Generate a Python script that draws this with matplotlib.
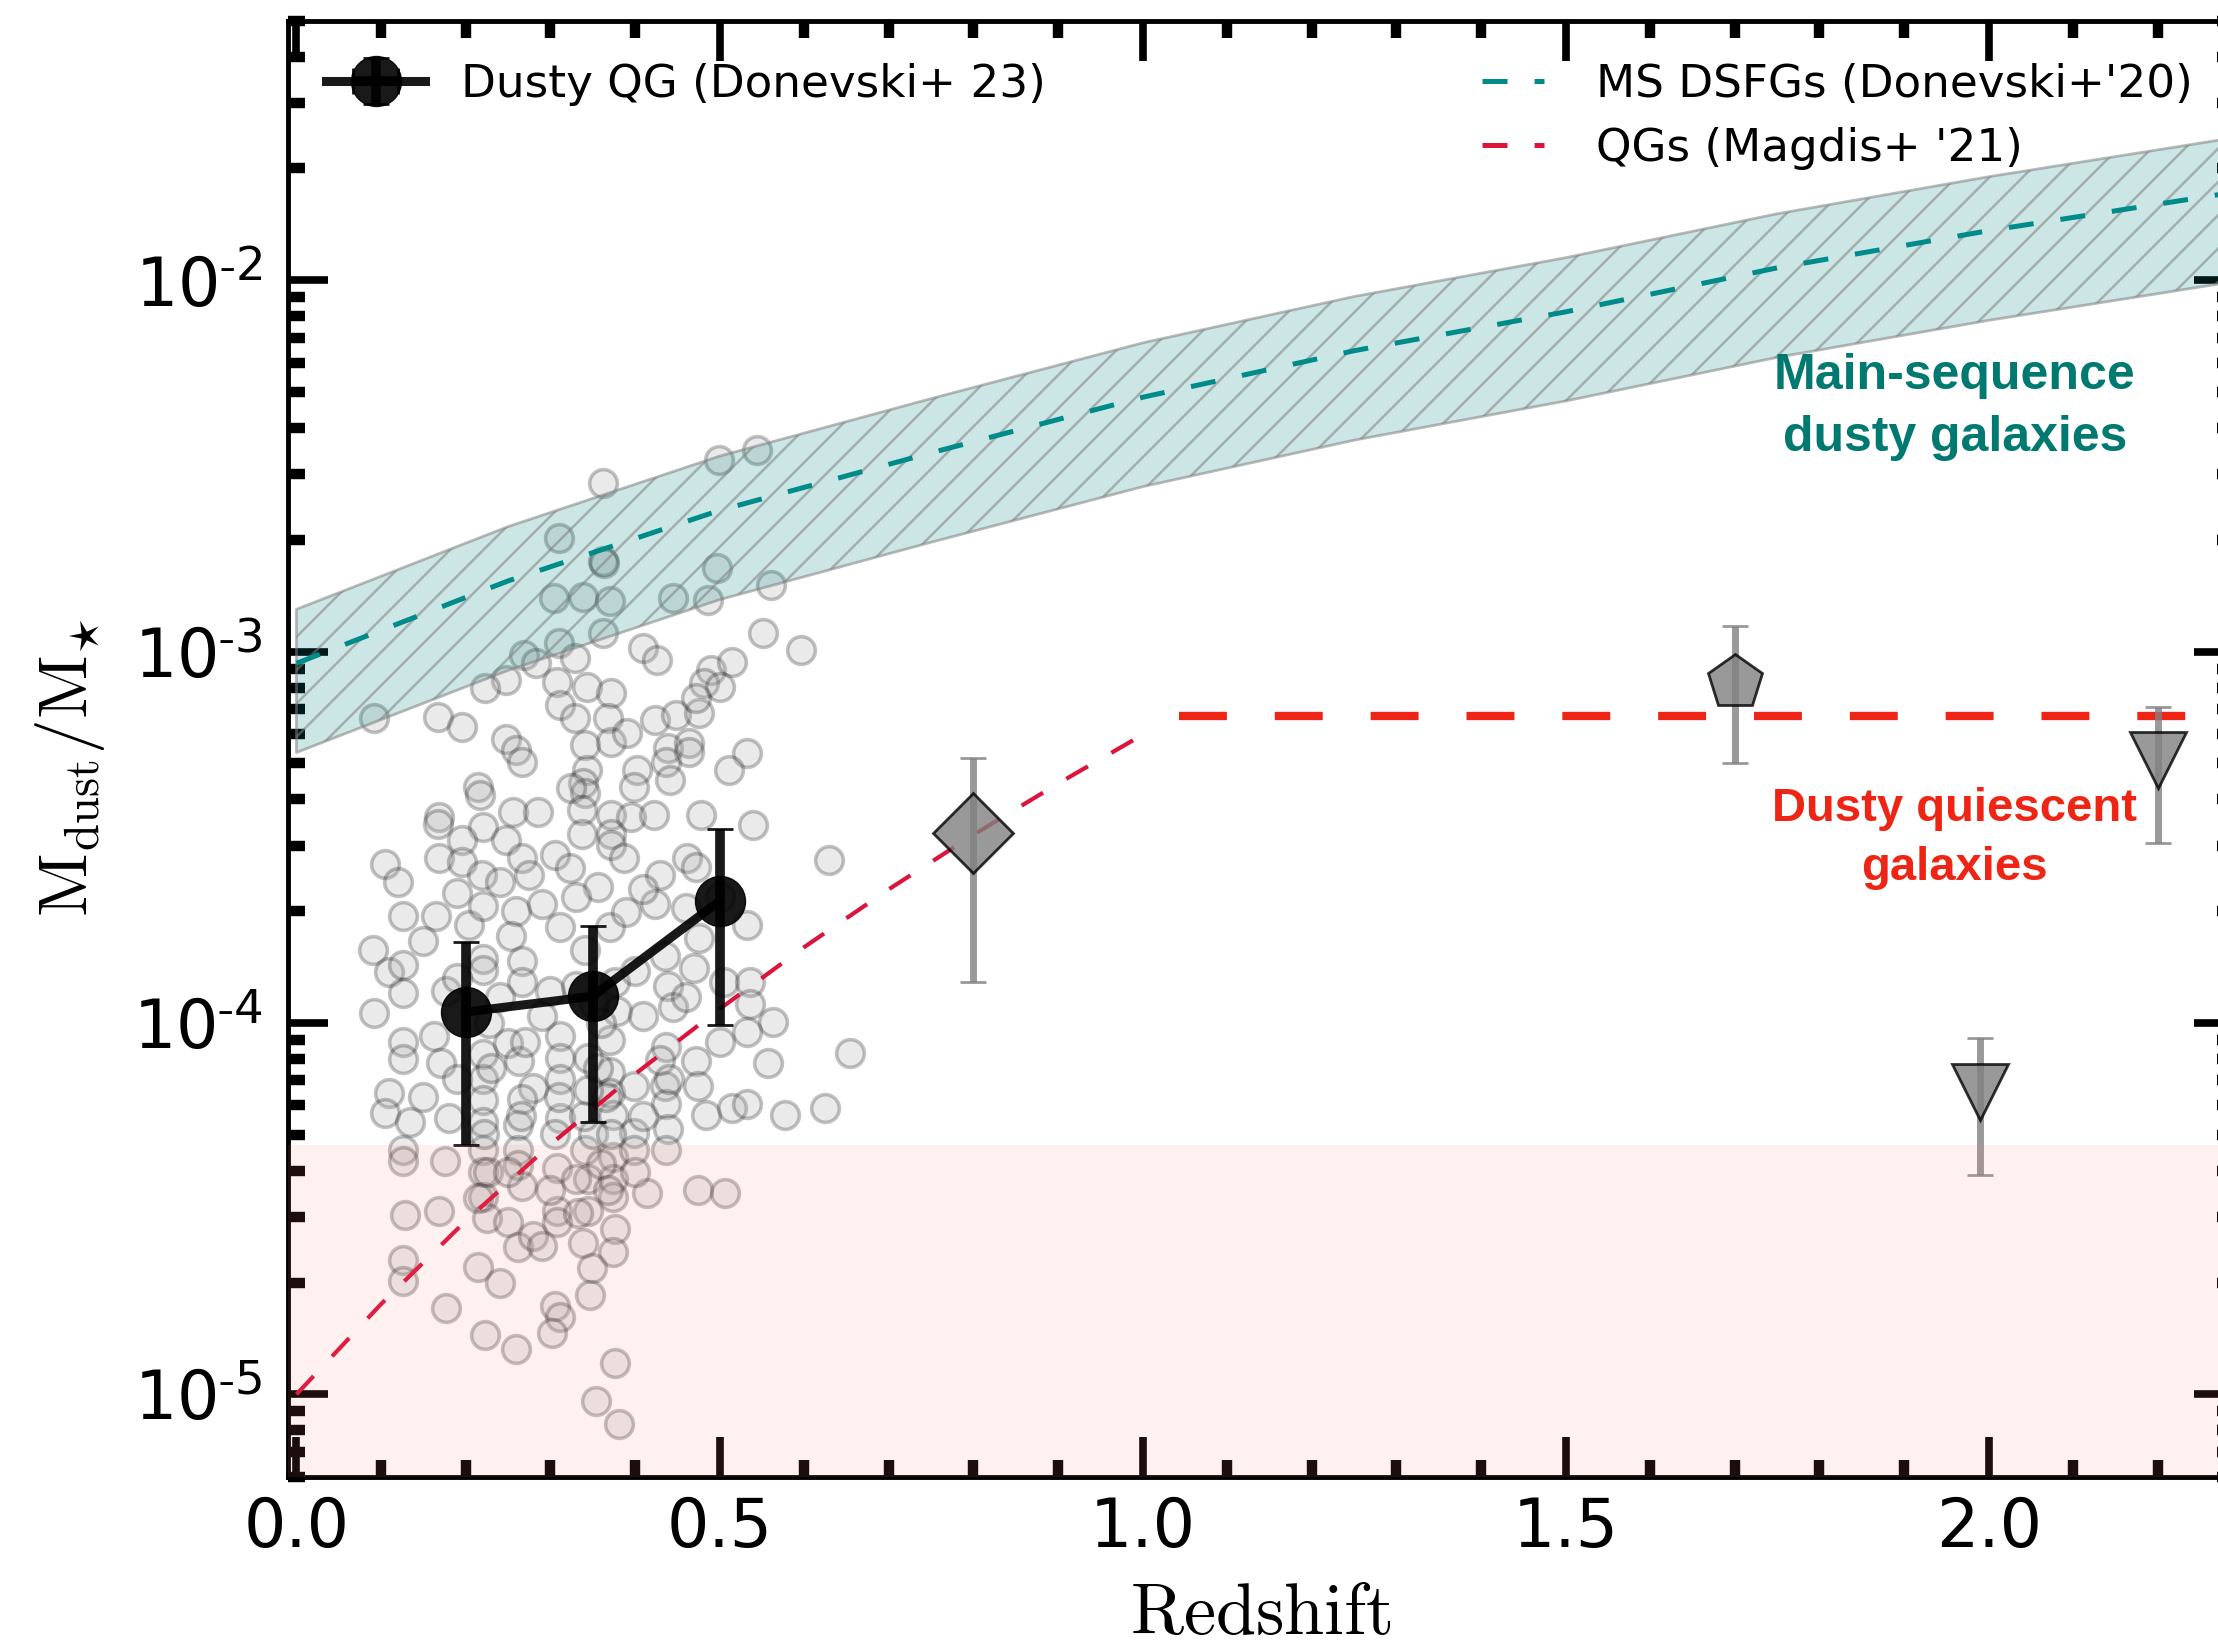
import numpy as np
import matplotlib
matplotlib.use("Agg")
import matplotlib.pyplot as plt
from matplotlib.lines import Line2D
from matplotlib.ticker import MultipleLocator, LogLocator, FuncFormatter, NullFormatter

plt.rcParams["font.family"] = ["DejaVu Sans"]
plt.rcParams["mathtext.fontset"] = "cm"
plt.rcParams["lines.scale_dashes"] = False
plt.rcParams["hatch.linewidth"] = 1.8

# --- data ---

# main-sequence DSFG relation (Donevski+20): median and band
ms_z = [0.0, 0.25, 0.5, 0.75, 1.0, 1.25, 1.5, 1.75, 2.0, 2.3]
ms_med = [9.3e-4, 1.55e-3, 2.40e-3, 3.43e-3, 4.84e-3, 6.46e-3, 8.22e-3, 1.08e-2, 1.36e-2, 1.74e-2]
ms_hi = [1.30e-3, 2.17e-3, 3.36e-3, 4.80e-3, 6.78e-3, 9.04e-3, 1.15e-2, 1.51e-2, 1.90e-2, 2.44e-2]
ms_lo = [5.35e-4, 8.9e-4, 1.38e-3, 1.97e-3, 2.78e-3, 3.71e-3, 4.73e-3, 6.2e-3, 7.8e-3, 1.0e-2]

# QG track (Magdis+21)
qg_z = [0.0, 0.1, 0.2, 0.3, 0.4, 0.5, 0.6, 0.7, 0.8, 0.9, 1.0]
qg_y = [1.0e-5, 1.75e-5, 2.93e-5, 4.70e-5, 7.28e-5, 1.09e-4, 1.60e-4, 2.29e-4, 3.21e-4, 4.41e-4, 5.97e-4]
flat_z = [1.043, 2.3]
flat_y = [6.7e-4, 6.7e-4]

# low dust-fraction region
low_dust_top = 4.7e-5

# Dusty QG (Donevski+23), binned
dqg_z = [0.2, 0.35, 0.5]
dqg_y = [1.07e-4, 1.18e-4, 2.13e-4]
dqg_lo = [4.7e-5, 5.4e-5, 9.9e-5]
dqg_hi = [1.65e-4, 1.83e-4, 3.32e-4]

# other literature QGs
lit_z = [0.8, 1.7, 1.99, 2.2]
lit_y = [3.24e-4, 8.3e-4, 6.5e-5, 5.1e-4]
lit_lo = [1.29e-4, 5.0e-4, 3.9e-5, 3.05e-4]
lit_hi = [5.18e-4, 1.17e-3, 9.1e-5, 7.1e-4]
lit_marker = ["D", "p", "v", "v"]

# individual dusty QGs: (redshift, log10 Mdust/M*)
indiv = [
    (0.499, -2.484), (0.544, -2.456), (0.362, -2.546), (0.310, -2.694), (0.362, -2.757),
    (0.364, -2.762), (0.497, -2.775), (0.304, -2.856), (0.339, -2.852), (0.370, -2.865),
    (0.445, -2.856), (0.486, -2.861), (0.561, -2.820), (0.362, -2.951), (0.310, -2.977),
    (0.269, -3.009), (0.283, -3.031), (0.329, -3.018), (0.410, -2.991), (0.426, -3.022),
    (0.551, -2.951), (0.596, -2.996), (0.248, -3.076), (0.223, -3.099), (0.308, -3.081),
    (0.343, -3.094), (0.372, -3.112), (0.490, -3.049), (0.515, -3.027), (0.482, -3.085),
    (0.501, -3.094), (0.092, -3.180), (0.167, -3.175), (0.196, -3.202), (0.312, -3.144),
    (0.329, -3.180), (0.368, -3.180), (0.424, -3.184), (0.449, -3.171), (0.476, -3.166),
    (0.472, -3.126), (0.248, -3.234), (0.260, -3.265), (0.267, -3.296), (0.341, -3.252),
    (0.372, -3.243), (0.391, -3.220), (0.439, -3.260), (0.464, -3.247), (0.464, -3.269),
    (0.532, -3.274), (0.343, -3.319), (0.403, -3.319), (0.437, -3.296), (0.511, -3.319),
    (0.215, -3.364), (0.217, -3.386), (0.339, -3.355), (0.341, -3.382), (0.325, -3.368),
    (0.399, -3.364), (0.441, -3.346), (0.169, -3.445), (0.167, -3.463), (0.256, -3.431),
    (0.285, -3.431), (0.221, -3.472), (0.196, -3.508), (0.248, -3.508), (0.337, -3.427),
    (0.372, -3.440), (0.395, -3.445), (0.422, -3.440), (0.478, -3.440), (0.540, -3.467),
    (0.372, -3.490), (0.337, -3.490), (0.372, -3.521), (0.105, -3.571), (0.169, -3.557),
    (0.196, -3.566), (0.267, -3.557), (0.306, -3.548), (0.387, -3.557), (0.461, -3.557),
    (0.430, -3.602), (0.219, -3.602), (0.275, -3.602), (0.323, -3.584), (0.356, -3.633),
    (0.629, -3.562), (0.472, -3.579),
    (0.126, -3.713), (0.165, -3.713), (0.204, -3.737), (0.221, -3.684), (0.260, -3.698),
    (0.312, -3.742), (0.370, -3.742), (0.424, -3.679), (0.532, -3.737), (0.090, -3.804),
    (0.109, -3.862), (0.126, -3.843), (0.126, -3.920), (0.092, -3.972), (0.177, -3.915),
    (0.221, -3.828), (0.221, -3.857), (0.254, -3.766), (0.267, -3.833), (0.267, -3.891),
    (0.300, -3.915), (0.341, -3.804), (0.376, -3.891), (0.379, -3.968), (0.435, -3.819),
    (0.439, -3.900), (0.445, -3.958), (0.476, -3.770), (0.470, -3.852), (0.505, -3.891),
    (0.536, -3.891), (0.536, -3.948), (0.563, -3.997), (0.532, -4.025), (0.557, -4.107),
    (0.472, -4.102), (0.474, -4.170), (0.484, -4.247), (0.515, -4.228), (0.532, -4.218),
    (0.578, -4.247), (0.625, -4.228), (0.126, -4.050), (0.126, -4.098), (0.109, -4.189),
    (0.105, -4.242), (0.134, -4.266), (0.180, -4.257), (0.163, -4.035), (0.171, -4.107),
    (0.221, -4.083), (0.221, -4.151), (0.221, -4.208), (0.221, -4.266), (0.250, -4.054),
    (0.263, -4.102), (0.279, -4.175), (0.267, -4.204), (0.262, -4.276), (0.312, -4.035),
    (0.312, -4.093), (0.312, -4.151), (0.312, -4.257), (0.345, -4.093), (0.370, -4.045),
    (0.370, -4.131), (0.370, -4.189), (0.374, -4.247), (0.399, -4.170), (0.435, -4.170),
    (0.437, -4.064), (0.437, -4.218), (0.439, -4.285), (0.399, -4.295), (0.126, -4.343),
    (0.126, -4.372), (0.175, -4.372), (0.221, -4.343), (0.221, -4.401), (0.221, -4.468),
    (0.225, -4.526), (0.262, -4.343), (0.262, -4.382), (0.267, -4.440), (0.308, -4.391),
    (0.308, -4.507), (0.341, -4.343), (0.345, -4.420), (0.345, -4.507), (0.374, -4.362),
    (0.374, -4.420), (0.374, -4.468), (0.399, -4.343), (0.414, -4.459), (0.437, -4.343),
    (0.474, -4.449), (0.507, -4.459), (0.128, -4.516), (0.169, -4.507), (0.250, -4.536),
    (0.262, -4.603), (0.279, -4.574), (0.308, -4.536), (0.333, -4.512), (0.376, -4.555),
    (0.339, -4.593), (0.374, -4.617), (0.126, -4.637), (0.126, -4.694), (0.215, -4.656),
    (0.349, -4.661), (0.347, -4.733), (0.177, -4.767), (0.306, -4.762), (0.312, -4.791),
    (0.223, -4.839), (0.260, -4.877), (0.302, -4.834), (0.376, -4.916), (0.354, -5.017),
    (0.381, -5.080), (0.654, -4.080),
    (0.352, -3.950), (0.360, -4.000), (0.356, -4.120), (0.366, -4.200), (0.350, -4.300),
    (0.360, -4.380), (0.368, -4.450), (0.340, -4.250), (0.372, -4.300), (0.345, -4.180),
    (0.228, -4.000), (0.222, -4.300), (0.226, -4.400), (0.215, -4.470), (0.230, -4.120),
    (0.270, -4.050), (0.265, -4.250), (0.310, -4.200), (0.305, -4.300), (0.300, -4.450),
    (0.410, -4.250), (0.430, -4.100), (0.440, -4.150),
    (0.120, -3.620), (0.150, -3.780), (0.190, -3.650), (0.240, -3.620), (0.290, -3.680),
    (0.330, -3.660), (0.390, -3.700), (0.410, -3.640), (0.460, -3.690), (0.500, -3.660),
    (0.190, -3.880), (0.240, -3.930), (0.290, -3.980), (0.330, -3.900), (0.400, -3.860),
    (0.410, -3.980), (0.460, -3.930), (0.500, -4.050), (0.150, -4.200), (0.190, -4.150),
    (0.250, -4.400), (0.330, -4.420), (0.400, -4.400), (0.290, -4.600), (0.240, -4.700),
]
indiv_z = [p[0] for p in indiv]
indiv_y = [10 ** p[1] for p in indiv]

teal = "darkcyan"
crimson = "crimson"
red = "#ee2414"

fig = plt.figure(figsize=(22.18, 16.45), dpi=100)
ax = fig.add_axes([288 / 2218, 1 - 1476.7 / 1645, 1946 / 2218, 1456 / 1645])
ax.set_yscale("log")

# individual galaxies
ax.scatter(indiv_z, indiv_y, s=400, facecolor="darkgray", edgecolor="k",
           linewidth=2.6, alpha=0.24, zorder=1)

# MS band + median
ax.fill_between(ms_z, ms_lo, ms_hi, facecolor=(0, 0.5, 0.5, 0.2), edgecolor="none", zorder=2)
ax.fill_between(ms_z, ms_lo, ms_hi, facecolor="none", edgecolor=(0.5, 0.5, 0.5, 0.55),
                hatch="/", linewidth=2, zorder=2)
ax.plot(ms_z, ms_med, color=teal, lw=3.6, dashes=(18, 19.5), zorder=3)

# QG track
ax.plot(qg_z, qg_y, color=crimson, lw=3, dashes=(18, 19.5), zorder=3)
ax.plot(flat_z, flat_y, color=red, lw=6, dashes=(34.5, 34.5), zorder=3)

# literature points
for z, y, lo, hi, m in zip(lit_z, lit_y, lit_lo, lit_hi, lit_marker):
    ax.errorbar([z], [y], yerr=[[y - lo], [hi - y]], fmt=m, color="gray", mfc="gray",
                mec="k", mew=2, ms=41, elinewidth=5, capsize=9.4, capthick=1.5,
                alpha=0.8, zorder=4)

# Donevski+23 binned
yerr = [np.subtract(dqg_y, dqg_lo), np.subtract(dqg_hi, dqg_y)]
eb = ax.errorbar(dqg_z, dqg_y, yerr=yerr, xerr=[0, 0, 0], fmt="o-", color="k", ms=36,
                 lw=6.5, elinewidth=7, capsize=9.4, capthick=2, alpha=0.9, zorder=5)

# low dust fraction shading
ax.axhspan(1e-7, low_dust_top, color="salmon", alpha=0.11, lw=0, zorder=6)

ax.text(1.96, 4.56e-3, "Main-sequence\ndusty galaxies", color="#007a70", fontsize=36,
        fontweight="bold", family="Liberation Sans", ha="center", va="center",
        multialignment="center", linespacing=1.45, zorder=7)
ax.text(1.96, 3.13e-4, "Dusty quiescent\ngalaxies", color=red, fontsize=34,
        fontweight="bold", family="Liberation Sans", ha="center", va="center",
        multialignment="center", linespacing=1.44, zorder=7)

ax.set_xlim(-0.01, 2.29)
ax.set_ylim(6e-6, 5e-2)

ax.xaxis.set_major_locator(MultipleLocator(0.5))
ax.xaxis.set_minor_locator(MultipleLocator(0.1))
ax.yaxis.set_major_locator(LogLocator(base=10, numticks=10))
ax.yaxis.set_minor_locator(LogLocator(base=10, subs=np.arange(2, 10), numticks=20))
ax.yaxis.set_minor_formatter(NullFormatter())
ax.yaxis.set_major_formatter(FuncFormatter(
    lambda v, p: r"$\mathdefault{10^{\text{-}%d}}$" % round(-np.log10(v))))

ax.tick_params(which="both", direction="in", top=True, right=True, labelsize=48)
ax.tick_params(which="major", length=29, width=5.5)
ax.tick_params(which="minor", length=12, width=7.5)
ax.tick_params(axis="x", pad=13)
ax.tick_params(axis="y", pad=18)
for s in ax.spines.values():
    s.set_linewidth(3.5)

ax.set_xlabel(r"$\mathrm{Redshift}$", fontsize=52)
ax.set_ylabel(r"$\mathrm{M_{dust}/M_{\star}}$", fontsize=50)
ax.xaxis.set_label_coords(0.5, -0.071)
ax.yaxis.set_label_coords(-0.093, 0.487)

leg1 = ax.legend([eb], ["Dusty QG (Donevski+ 23)"], loc="upper left",
                 bbox_to_anchor=(0.0195, 0.971), borderaxespad=0, borderpad=0,
                 frameon=False, fontsize=32.6, handlelength=2.19, handletextpad=0.8,
                 numpoints=1)
ax.add_artist(leg1)
h_ms = Line2D([], [], color=teal, lw=3.6, dashes=(18, 19.5))
h_qg = Line2D([], [], color=crimson, lw=3.6, dashes=(18, 19.5))
ax.legend([h_ms, h_qg], ["MS DSFGs (Donevski+'20)", "QGs (Magdis+ '21)"],
          loc="upper left", bbox_to_anchor=(0.6136, 0.971), borderaxespad=0,
          borderpad=0, frameon=False, fontsize=32.6, handlelength=1.37,
          handletextpad=1.15, labelspacing=0.455)

fig.savefig("out.png", dpi=100)
